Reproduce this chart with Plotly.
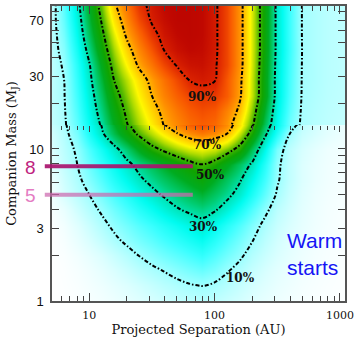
import math
import plotly.graph_objects as go

# ---------------- data ----------------
# grid of projected separations (AU) and companion masses (M_Jup)
sep_au = [5.01, 6.31, 7.94, 10.0, 12.6, 15.8, 20.0, 25.1, 31.6, 39.8, 50.1, 63.1,
          79.4, 100, 126, 158, 200, 251, 316, 398, 501, 631, 794, 1000, 1122]
mass_low = [1.0, 1.26, 1.58, 2.0, 2.51, 3.16, 3.98, 5.01, 6.31, 7.94, 10.0, 12.6, 14.5]
mass_high = [14.3, 17.8, 22.4, 28.2, 35.5, 44.7, 56.2, 70.8, 89.1]

# detection probability (%) -- lower panel (1-14 MJ), rows bottom -> top
prob_low = [
    [0, 0.2, 0.5, 0.9, 1.4, 2, 2.8, 3.6, 4.5, 5.4, 6.3, 7, 7.4, 6.8, 5.8, 4.7, 3.6, 2.7, 2, 1.4, 1, 0.7, 0.5, 0.3, 0.2],
    [0.1, 0.3, 0.7, 1.3, 2, 2.9, 3.9, 5, 6.2, 7.4, 8.5, 9.5, 10.1, 9.2, 7.8, 6.2, 4.8, 3.6, 2.6, 1.9, 1.3, 0.9, 0.6, 0.4, 0.3],
    [0.1, 0.4, 1, 1.8, 2.9, 4.2, 5.7, 7.3, 8.8, 10.2, 11.8, 13.3, 14.5, 12.8, 10.4, 8.3, 6.2, 4.5, 3.2, 2.3, 1.6, 1.1, 0.8, 0.5, 0.4],
    [0.2, 0.6, 1.5, 2.7, 4.2, 6, 8, 10.2, 12, 13.8, 15.5, 17.3, 18.9, 16.3, 13.6, 11, 8, 5.8, 4.2, 2.9, 2, 1.3, 0.9, 0.6, 0.5],
    [0.3, 1, 2.5, 4.3, 6.5, 8.8, 11.2, 13.3, 15.3, 17.4, 19.4, 21.5, 23.3, 20, 16.7, 13.4, 10.2, 7.2, 5, 3.4, 2.3, 1.5, 1, 0.7, 0.6],
    [0.5, 1.5, 3.5, 5.8, 8.5, 11.2, 13.6, 16, 18.3, 20.7, 23.1, 25.5, 27.7, 23.9, 20.1, 16.3, 12.5, 8.7, 6, 4.2, 2.8, 1.8, 1.2, 0.8, 0.7],
    [1, 2.5, 5.3, 8, 10.8, 13.9, 17, 20.1, 23.1, 26.2, 29.3, 31.4, 32.8, 30.8, 26.7, 21.6, 16.5, 11.4, 7.3, 5, 3.2, 2, 1.3, 0.9, 0.8],
    [1.8, 4.6, 7.3, 10, 13.6, 17.2, 20.7, 24.3, 27.8, 31, 33.6, 36.2, 38.6, 35.2, 31.9, 27.3, 21.2, 15, 9.3, 5.8, 3.6, 2.2, 1.5, 1, 0.9],
    [2.4, 5.5, 8.6, 12.3, 16.4, 20.6, 24.7, 28.8, 32.2, 35.3, 38.5, 41.6, 44.5, 39.8, 35.4, 31, 24.7, 17.7, 10.7, 6.5, 4, 2.5, 1.7, 1.2, 1],
    [3.5, 6.6, 9.8, 14.3, 19, 23.6, 28.3, 32.4, 36.2, 40.1, 43.9, 47.7, 50.3, 47, 41.1, 35.2, 29, 20.1, 11.3, 6.5, 4, 2.6, 1.8, 1.3, 1.1],
    [4.2, 7.3, 10.8, 16.5, 22.2, 27.9, 34.2, 40.9, 47.6, 52, 56, 59.5, 61, 59, 54, 47.4, 36, 24.5, 13.2, 7, 4.5, 3, 2, 1.5, 1.3],
    [5, 8.2, 13.3, 21.1, 28.8, 36.8, 44.6, 51.9, 57.8, 63.7, 69.6, 74.5, 77.5, 75, 69.9, 58.3, 46.6, 31.9, 20.7, 10, 6, 4.5, 3.2, 2.3, 2],
    [6, 8.9, 15, 22.7, 30.5, 39.5, 48.4, 55.8, 62.8, 70, 76, 81.5, 84, 81, 75, 65, 50.8, 35.7, 24.1, 14.5, 7, 5, 3.5, 2.5, 2],
]
# upper panel (14-90 MJ), rows bottom -> top
prob_high = [
    [6.5, 9, 15.3, 23.1, 31, 40.3, 49.5, 56.6, 63.4, 70.5, 75, 79, 81, 79.5, 73.5, 63.6, 51.2, 35.9, 23.8, 13.8, 9, 7.8, 7, 6.5, 6.3],
    [6.8, 9.4, 16.6, 24.8, 33.4, 43, 51.9, 59.3, 66.6, 72.5, 77.5, 81.5, 83.5, 82, 76, 68.4, 54.7, 38.9, 25.4, 15.4, 9.2, 8, 7.2, 6.7, 6.5],
    [7, 9.7, 17.8, 26.3, 35.8, 46.2, 54.8, 62.5, 70, 76, 81, 85, 87, 86.5, 81.5, 71.5, 58.2, 42.4, 26.9, 16.5, 9.5, 8.3, 7.4, 6.9, 6.7],
    [7, 10, 18.9, 27.9, 38.5, 50, 57.7, 65.5, 72.5, 78.4, 84.3, 90, 91.5, 90.3, 82.1, 72.1, 58.5, 42.4, 27, 17, 9.6, 8.5, 7.5, 7, 6.8],
    [7, 10.8, 20, 29.3, 41.4, 53, 62.5, 71.5, 78, 84.6, 90.5, 93, 93.5, 91, 84.6, 73.3, 59.3, 43.1, 27.4, 17.4, 9.7, 8.5, 7.5, 7, 6.8],
    [7.5, 12.1, 22, 32.5, 44.9, 56.3, 66.9, 75.3, 82.8, 90.3, 93.5, 95, 94.5, 91.5, 84.6, 73.3, 59.6, 43.9, 27.8, 18, 9.8, 8.5, 7.5, 7, 6.8],
    [7.5, 13.5, 24, 35.5, 47.9, 60.1, 71.5, 79.5, 87.5, 92.5, 95, 96, 95, 91.5, 84.6, 73.3, 59.6, 43.9, 27.8, 17.8, 9.7, 8.5, 7.5, 7, 6.8],
    [7.5, 14.9, 25.7, 37.9, 51, 64.5, 75.2, 84.1, 91, 94, 96, 96, 95, 91.5, 84.6, 73.3, 59.6, 43.9, 27.8, 17.8, 9.7, 8.5, 7.5, 7, 6.8],
    [7, 16, 27, 40, 54, 68.7, 78.4, 87.6, 92, 95, 96, 96, 95, 91.5, 84.6, 73.3, 59.6, 43.9, 27.8, 17.8, 9.7, 8.5, 7.5, 7, 6.8],
]

# contour label positions (AU, MJ)
contour_labels = ["90%", "70%", "50%", "30%", "10%"]
label_sep = [79.4, 87.1, 92.0, 81.0, 160.0]
label_mass = [22.0, 10.6, 6.75, 3.07, 1.42]

# highlighted masses
mass_lines = [7.7, 5.0]
mass_line_text = ["8", "5"]
mass_line_from_au = 4.3
mass_line_to_au = 67.0

x_tick_vals = [10, 100, 1000]
x_minor_vals = [6, 7, 8, 9, 20, 30, 40, 50, 60, 70, 80, 90, 200, 300, 400, 500, 600, 700, 800, 900]
y_tick_vals = [1, 3, 10, 30, 70]
y_minor_vals = [2, 4, 5, 6, 7, 8, 9, 20, 40, 50, 60, 80]

# ---------------- styling ----------------
colorscale = [
    [0.00, '#ffffff'], [0.04, '#dcffff'], [0.10, '#a0ffff'], [0.18, '#3cffff'],
    [0.24, '#00fcf0'], [0.29, '#00e8c0'], [0.34, '#00cc70'], [0.40, '#00ac20'],
    [0.46, '#10a400'], [0.52, '#50b800'], [0.57, '#b0dc00'], [0.62, '#fff800'],
    [0.68, '#ffc800'], [0.74, '#ff9000'], [0.82, '#f85800'], [0.89, '#e02800'],
    [0.95, '#c00800'], [1.00, '#b00000'],
]
line_style = dict(color='black', width=2, dash='4px,2px,1.5px,2px')
contour_levels = dict(start=10, end=90, size=20, coloring='heatmap')

fig = go.Figure()
for masses, probs in ((mass_low, prob_low), (mass_high, prob_high)):
    fig.add_trace(go.Contour(
        x=sep_au, y=masses, z=probs, zmin=0, zmax=100, colorscale=colorscale,
        autocontour=False, contours=contour_levels, line=line_style,
        showscale=False, hoverinfo='skip'))

# helper trace so the panel-boundary tick axis is drawn
fig.add_trace(go.Scatter(x=[None], y=[None], xaxis='x2', showlegend=False, hoverinfo='skip'))

annotations = []
for txt, sx, my in zip(contour_labels, label_sep, label_mass):
    annotations.append(dict(x=math.log10(sx), y=math.log10(my), xref='x', yref='y', text='<b>' + txt + '</b>',
                            showarrow=False, font=dict(family='DejaVu Serif', size=12, color='#111111')))

line_colors = ['rgba(170,20,110,0.92)', 'rgba(205,105,175,0.72)']
text_colors = ['#c01f80', '#e47cc2']
for m, t, lc, tc in zip(mass_lines, mass_line_text, line_colors, text_colors):
    annotations.append(dict(x=math.log10(mass_line_to_au), y=math.log10(m), xref='x', yref='y',
                            ax=math.log10(mass_line_from_au), ay=math.log10(m), axref='x', ayref='y',
                            text='', showarrow=True, arrowhead=0, arrowwidth=4, arrowcolor=lc,
                            standoff=0, startstandoff=0))
    annotations.append(dict(x=-0.072, y=math.log10(m), xref='paper', yref='y', text=t,
                            showarrow=False, xanchor='center', yshift=-1,
                            font=dict(family='Liberation Sans', size=19, color=tc)))

annotations.append(dict(x=0.795, y=0.16, xref='paper', yref='paper', text='Warm<br>starts',
                        showarrow=False, xanchor='left', yanchor='middle', align='left',
                        font=dict(family='Liberation Sans', size=21, color='#1515f5')))

axis_common = dict(type='log', ticks='inside', showgrid=False, zeroline=False,
                   tickcolor='#444444', tickwidth=1, automargin=False)

fig.update_layout(
    width=354, height=337,
    margin=dict(l=52, r=9, t=6, b=36, autoexpand=False),
    paper_bgcolor='white', plot_bgcolor='white',
    showlegend=False,
    xaxis=dict(**axis_common, range=[0.703, 3.04], mirror='allticks', showline=True,
               linecolor='#555555', linewidth=1.5, tickvals=x_tick_vals, ticktext=['10', '100', '1000'],
               ticklen=8, minor=dict(tickvals=x_minor_vals, ticklen=5, ticks='inside', tickcolor='#444444'),
               tickfont=dict(family='DejaVu Serif', size=11, color='#111111'), ticklabelstandoff=3,
               title=dict(text='Projected Separation (AU)', standoff=6,
                          font=dict(family='DejaVu Serif', size=13, color='#111111'))),
    xaxis2=dict(**axis_common, range=[0.703, 3.04], overlaying='x', anchor='free', position=0.5953,
                side='top', showline=False, showticklabels=False, tickvals=x_tick_vals, ticklen=6,
                minor=dict(tickvals=x_minor_vals, ticklen=4, ticks='inside', tickcolor='#444444')),
    yaxis=dict(**axis_common, range=[0, 1.94], mirror='allticks', showline=True,
               linecolor='#555555', linewidth=1.5, tickvals=y_tick_vals, ticktext=['1', '3', '10', '30', '70'],
               ticklen=7, minor=dict(tickvals=y_minor_vals, ticklen=5, ticks='inside', tickcolor='#444444'),
               tickfont=dict(family='Liberation Sans', size=13, color='#111111'), ticklabelstandoff=4,
               title=dict(text='Companion Mass (M<sub>J</sub>)', standoff=10,
                          font=dict(family='DejaVu Serif', size=13, color='#111111'))),
    annotations=annotations,
)

fig.write_html("out.html", config={'displayModeBar': False},
               post_script="document.body.style.margin='0px';")
